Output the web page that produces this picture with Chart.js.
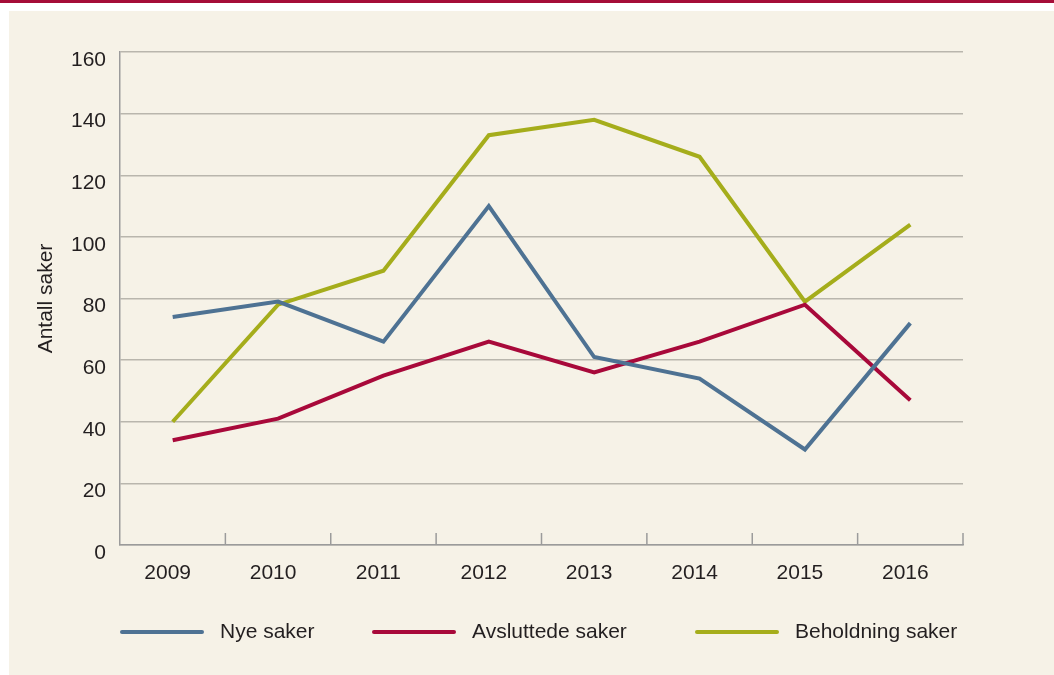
<!DOCTYPE html>
<html>
<head>
<meta charset="utf-8">
<script src="https://cdn.jsdelivr.net/npm/chart.js@4"></script>
<style>
  body { margin: 0; background: #fff; }
  canvas { display: block; }
</style>
</head>
<body>
<canvas id="sakerChart" width="1054" height="675"></canvas>
<script>
// data
const years = ['2009', '2010', '2011', '2012', '2013', '2014', '2015', '2016'];
const nyeSaker = [74, 79, 66, 110, 61, 54, 31, 72];
const avsluttedeSaker = [34, 41, 55, 66, 56, 66, 78, 47];
const beholdningSaker = [40, 78, 89, 133, 138, 126, 79, 104];
const yTickValues = [0, 20, 40, 60, 80, 100, 120, 140, 160];

const textColor = '#231f20';
const gridColor = '#b9b6ad';
const axisColor = '#9b9b9b';
const font = { family: 'Liberation Sans, Arial, sans-serif', size: 21 };

// background, top rule, small ticks between years, legend
const decor = {
  id: 'decor',
  beforeDraw(chart) {
    const c = chart.ctx;
    c.save();
    c.fillStyle = '#ffffff';
    c.fillRect(0, 0, chart.width, chart.height);
    c.fillStyle = '#a50d38';
    c.fillRect(0, 0, chart.width, 3);
    c.fillStyle = '#f6f2e7';
    c.fillRect(9, 11, chart.width - 9, chart.height - 11);
    c.restore();
  },
  beforeDatasetsDraw(chart) {
    const c = chart.ctx;
    const xs = chart.scales.x;
    const n = chart.data.labels.length;
    c.save();
    c.strokeStyle = axisColor;
    c.lineWidth = 1.5;
    for (let i = 1; i <= n; i++) {
      const x = xs.left + i * xs.width / n;
      c.beginPath();
      c.moveTo(x, xs.top - 12);
      c.lineTo(x, xs.top);
      c.stroke();
    }
    c.restore();
  },
  afterDraw(chart) {
    const c = chart.ctx;
    const legendX = [122, 374, 697];
    const y = 632;
    c.save();
    c.font = font.size + 'px ' + font.family;
    c.textBaseline = 'middle';
    chart.data.datasets.forEach(function (ds, i) {
      c.strokeStyle = ds.borderColor;
      c.lineWidth = 4;
      c.lineCap = 'round';
      c.beginPath();
      c.moveTo(legendX[i], y);
      c.lineTo(legendX[i] + 80, y);
      c.stroke();
      c.fillStyle = textColor;
      c.fillText(ds.label, legendX[i] + 98, y);
    });
    c.restore();
  }
};

const ctx = document.getElementById('sakerChart');

new Chart(ctx, {
  type: 'line',
  data: {
    labels: years,
    datasets: [
      { label: 'Nye saker', data: nyeSaker, borderColor: '#4e7293' },
      { label: 'Avsluttede saker', data: avsluttedeSaker, borderColor: '#a8093a' },
      { label: 'Beholdning saker', data: beholdningSaker, borderColor: '#a5ad1b' }
    ]
  },
  options: {
    responsive: false,
    animation: false,
    datasets: {
      line: { borderWidth: 4, pointRadius: 0, tension: 0, fill: false }
    },
    layout: { padding: { top: 52, right: 91, left: 0, bottom: 0 } },
    plugins: {
      legend: { display: false },
      tooltip: { enabled: false }
    },
    scales: {
      x: {
        offset: true,
        grid: { display: false },
        border: { display: true, color: axisColor, width: 1.5 },
        ticks: { font: font, color: textColor, padding: 8, labelOffset: -5, maxRotation: 0, autoSkip: false },
        afterFit: function (scale) { scale.height = 130; }
      },
      y: {
        min: 0,
        max: 160,
        afterBuildTicks: function (scale) {
          scale.ticks = yTickValues.map(function (v) { return { value: v }; });
        },
        grid: { color: gridColor, lineWidth: 1.5, drawTicks: false },
        border: { display: true, color: axisColor, width: 1.5 },
        ticks: { font: font, color: textColor, padding: 14, labelOffset: 8 },
        title: { display: true, text: 'Antall saker', font: font, color: textColor, padding: { top: 34, bottom: 0 } },
        afterFit: function (scale) { scale.width = 120; }
      }
    }
  },
  plugins: [decor]
});
</script>
</body>
</html>
